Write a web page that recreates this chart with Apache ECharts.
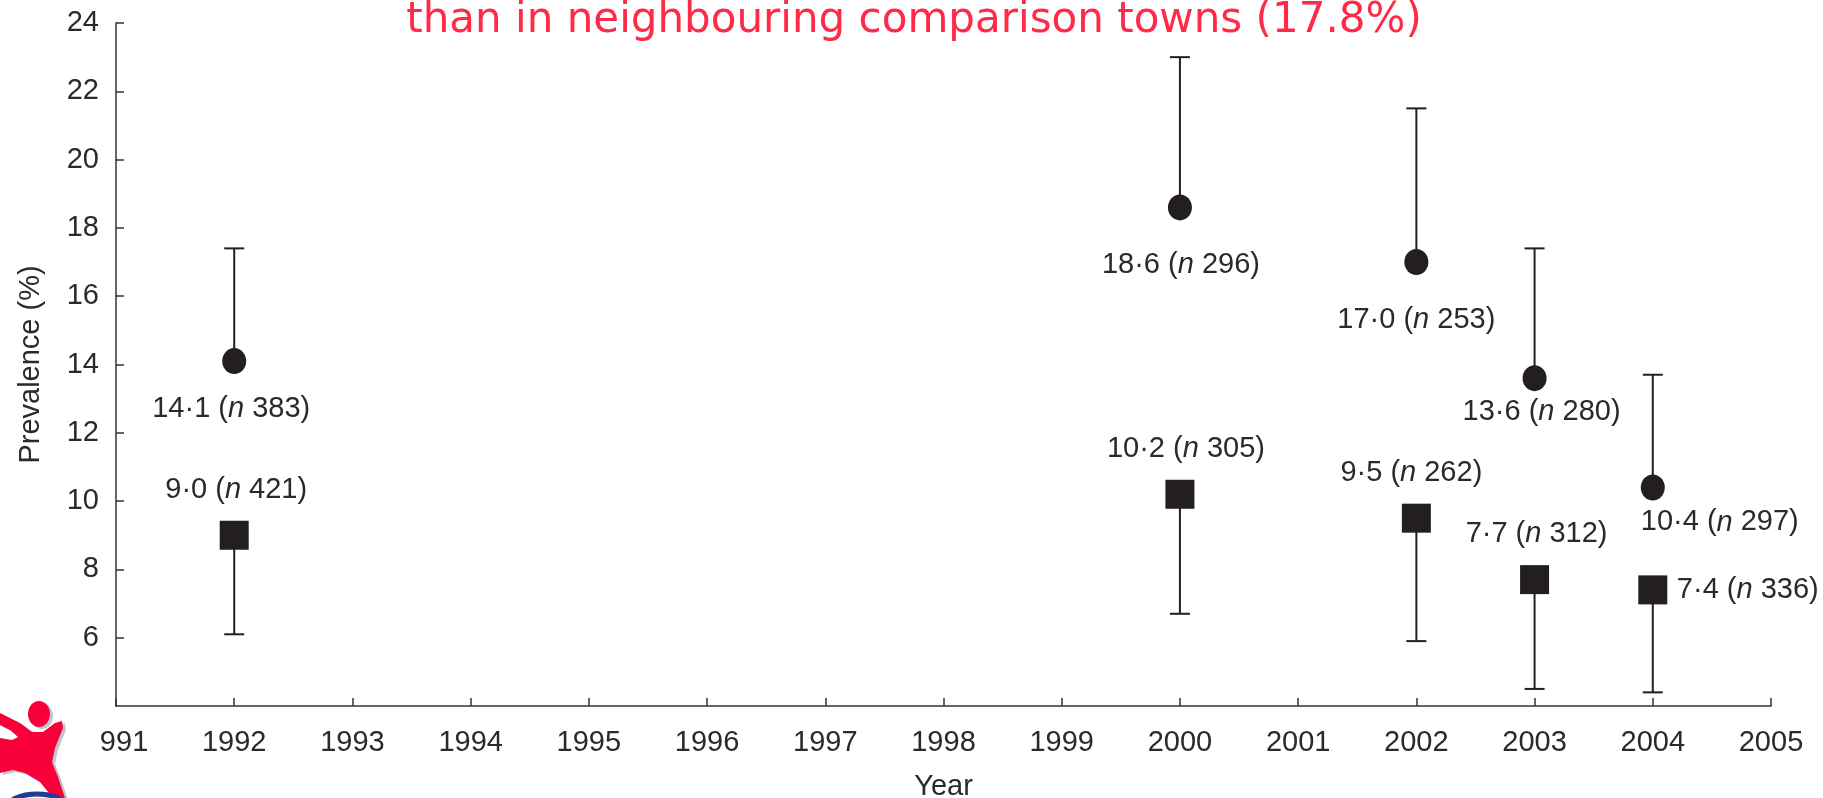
<!DOCTYPE html>
<html>
<head>
<meta charset="utf-8">
<title>Prevalence by year</title>
<script src="https://cdn.jsdelivr.net/npm/echarts@6/dist/echarts.min.js"></script>
<style>
  html, body { margin: 0; padding: 0; background: #fff; }
  #chart { width: 1823px; height: 798px; }
</style>
</head>
<body>
<div id="chart"></div>
<script>
// survey years
const years = [1992, 2000, 2002, 2003, 2004];

// circles (upper error bar only)
const circleValues = [14.1, 18.6, 17.0, 13.6, 10.4];
const circleN = [383, 296, 253, 280, 297];
const circleUpper = [17.4, 23.0, 21.5, 17.4, 13.7];

// squares (lower error bar only)
const squareValues = [9.0, 10.2, 9.5, 7.7, 7.4];
const squareN = [421, 305, 262, 312, 336];
const squareLower = [6.1, 6.7, 5.9, 4.5, 4.4];

// axis ticks
const yMin = 4, yMax = 24, yStep = 2;
const xMin = 1991, xMax = 2005;

// label offsets from the marker centre (layout only)
const circleLabelOffset = [[-3, 48], [1, 58], [0, 58], [7, 34], [67, 35]];
const squareLabelOffset = [[2, -45], [6, -45], [-5, -45], [2, -46], [95, 0]];

const INK = '#231f20';
const TEXT = '#2a2a2a';
const FONT = 'Liberation Sans';
const FS = 29;

const labelRich = {
  a: { fontSize: FS, fontFamily: FONT, color: TEXT },
  i: { fontSize: FS, fontFamily: FONT, color: TEXT, fontStyle: 'italic' },
};

function fmt(v, n) {
  return `{a|${v.toFixed(1).replace('.', '·')} (}{i|n}{a| ${n})}`;
}

function errorBar(params, api) {
  const p0 = api.coord([api.value(0), api.value(1)]);
  const p1 = api.coord([api.value(0), api.value(2)]);
  const half = 10;
  const style = { stroke: INK, lineWidth: 2 };
  return {
    type: 'group',
    children: [
      { type: 'line', shape: { x1: p0[0], y1: p0[1], x2: p1[0], y2: p1[1] }, style },
      { type: 'line', shape: { x1: p1[0] - half, y1: p1[1], x2: p1[0] + half, y2: p1[1] }, style },
    ],
  };
}

// rough outline of the logo figure, in page pixels
const logoBody = [
  [0, 713], [20, 723], [32, 732], [43, 732], [55, 723], [62, 721], [63, 728],
  [55, 748], [52, 762], [58, 777], [65, 798], [53, 798], [40, 782], [25, 773],
  [13, 770], [0, 773], [0, 738], [12, 740], [18, 737], [10, 730], [0, 725],
];

const chart = echarts.init(document.getElementById('chart'));

chart.setOption({
  animation: false,
  backgroundColor: '#ffffff',
  grid: { left: 116, right: 52, top: 23, bottom: 92, containLabel: false, outerBoundsMode: 'none' },
  xAxis: {
    type: 'value',
    min: xMin,
    max: xMax,
    interval: 1,
    name: 'Year',
    nameLocation: 'middle',
    nameGap: 66,
    nameTextStyle: { fontSize: FS, fontFamily: FONT, color: TEXT },
    axisLine: { lineStyle: { color: '#333', width: 1.5 } },
    axisTick: { inside: true, length: 8, lineStyle: { color: '#333', width: 1.5 } },
    axisLabel: {
      margin: 22,
      fontSize: FS,
      fontFamily: FONT,
      color: TEXT,
      formatter: (v) => String(v),
    },
    splitLine: { show: false },
  },
  yAxis: {
    type: 'value',
    min: yMin,
    max: yMax,
    interval: yStep,
    name: 'Prevalence (%)',
    nameLocation: 'middle',
    nameGap: 71,
    nameTextStyle: { fontSize: FS, fontFamily: FONT, color: TEXT },
    axisLine: { show: true, lineStyle: { color: '#333', width: 1.5 } },
    axisTick: { show: true, inside: true, length: 8, lineStyle: { color: '#333', width: 1.5 } },
    axisLabel: {
      margin: 17,
      fontSize: FS,
      fontFamily: FONT,
      color: TEXT,
      showMinLabel: false,
    },
    splitLine: { show: false },
  },
  series: [
    {
      type: 'custom',
      renderItem: errorBar,
      data: years.map((y, i) => [y, circleValues[i], circleUpper[i]]),
      z: 1,
    },
    {
      type: 'custom',
      renderItem: errorBar,
      data: years.map((y, i) => [y, squareValues[i], squareLower[i]]),
      z: 1,
    },
    {
      type: 'scatter',
      symbol: 'circle',
      symbolSize: [24, 26],
      itemStyle: { color: INK, opacity: 1 },
      z: 3,
      data: years.map((y, i) => ({
        value: [y, circleValues[i]],
        label: { offset: circleLabelOffset[i] },
      })),
      label: {
        show: true,
        position: 'inside',
        formatter: (p) => fmt(circleValues[p.dataIndex], circleN[p.dataIndex]),
        rich: labelRich,
      },
    },
    {
      type: 'scatter',
      symbol: 'rect',
      symbolSize: 29,
      itemStyle: { color: INK, opacity: 1 },
      z: 3,
      data: years.map((y, i) => ({
        value: [y, squareValues[i]],
        label: { offset: squareLabelOffset[i] },
      })),
      label: {
        show: true,
        position: 'inside',
        formatter: (p) => fmt(squareValues[p.dataIndex], squareN[p.dataIndex]),
        rich: labelRich,
      },
    },
  ],
  graphic: [
    {
      type: 'text',
      x: 914,
      y: 21,
      z: 100,
      style: {
        text: 'than in neighbouring comparison towns (17.8%)',
        align: 'center',
        verticalAlign: 'middle',
        fontSize: 42,
        fontFamily: 'DejaVu Sans',
        fill: '#fe2a48',
      },
    },
    // logo, bottom left
    { type: 'rect', z: 100, shape: { x: 0, y: 693, width: 101, height: 105 }, style: { fill: '#ffffff' } },
    { type: 'polygon', z: 101, shape: { points: logoBody.map((p) => [p[0] + 3, p[1] + 2]) }, style: { fill: '#c3c6cc' } },
    { type: 'ellipse', z: 101, shape: { cx: 42, cy: 716, rx: 11, ry: 13 }, style: { fill: '#c3c6cc' } },
    { type: 'polygon', z: 102, shape: { points: logoBody }, style: { fill: '#f8003a' } },
    { type: 'ellipse', z: 102, shape: { cx: 39, cy: 714, rx: 11, ry: 13 }, style: { fill: '#f8003a' } },
    { type: 'ellipse', z: 102, shape: { cx: 37, cy: 808, rx: 30, ry: 14 }, style: { fill: 'none', stroke: '#1e3f8f', lineWidth: 5 } },
  ],
});
</script>
</body>
</html>
